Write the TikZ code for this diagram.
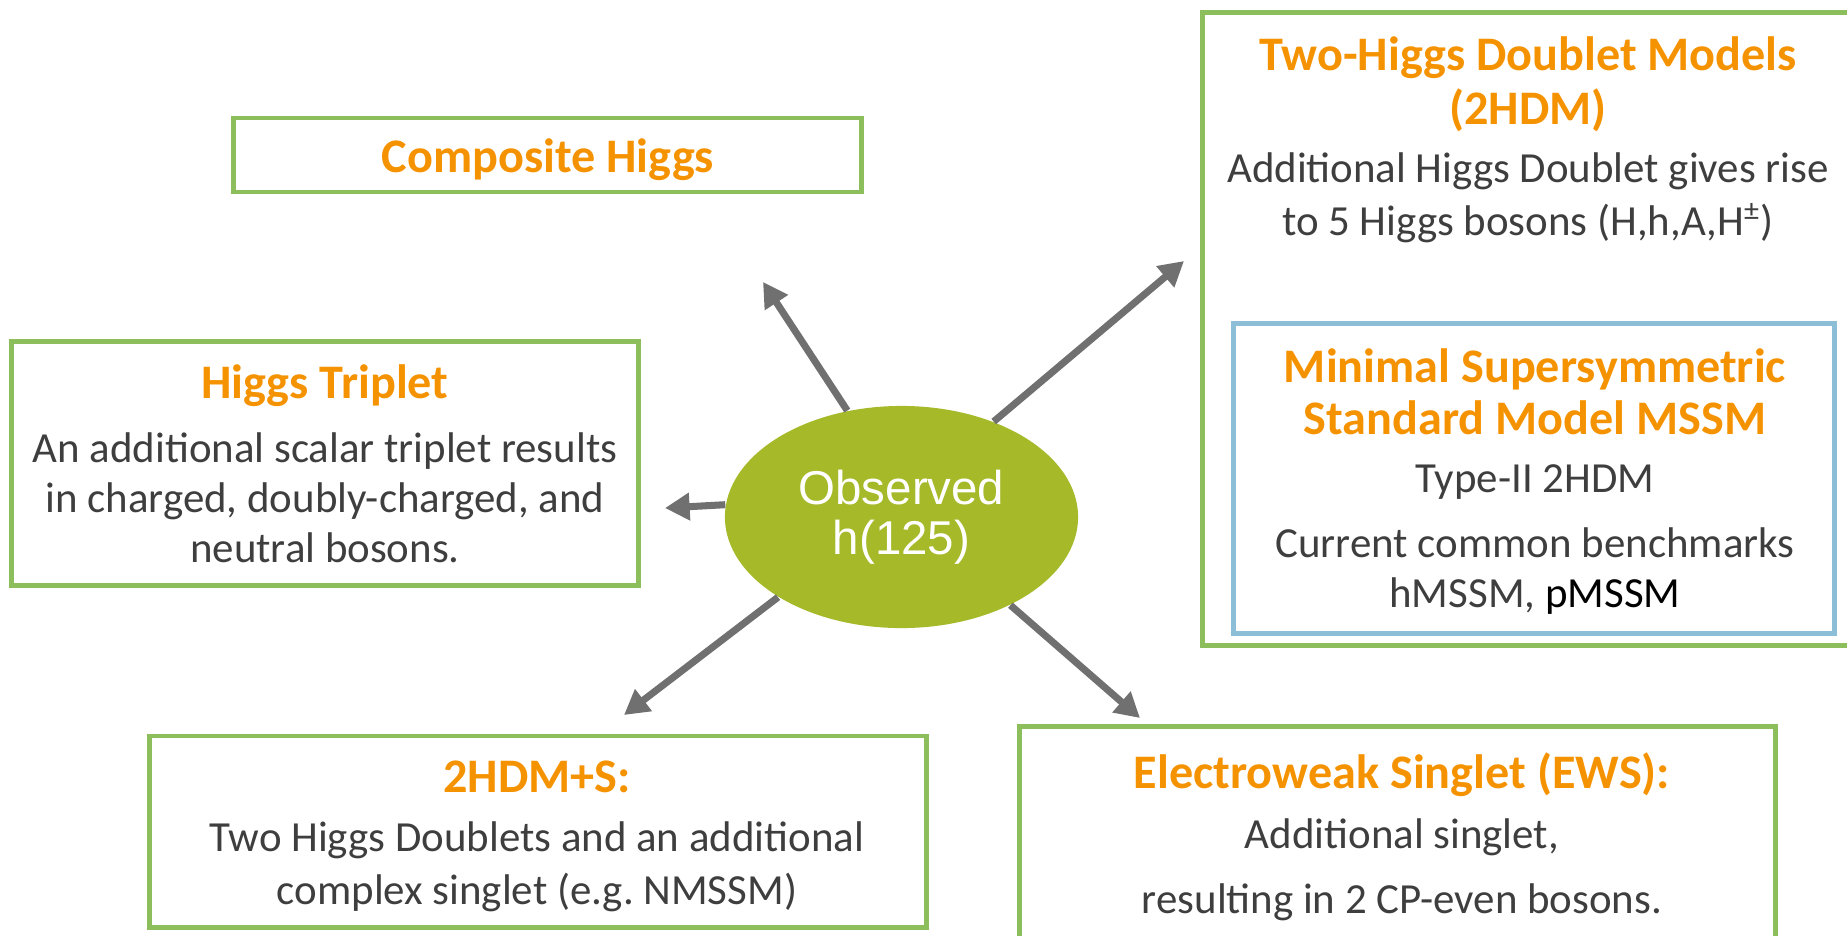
\documentclass[tikz,border=0pt]{standalone}
\usepackage{fontspec}
\setmainfont{Carlito}
\newfontfamily\arialfont{Liberation Sans}
\usepackage{xcolor}
\usetikzlibrary{shapes.geometric}
\usetikzlibrary{arrows.meta}

\definecolor{boxgreen}{RGB}{140,190,92}
\definecolor{boxblue}{RGB}{140,190,215}
\definecolor{hdorange}{RGB}{245,146,0}
\definecolor{obsgreen}{RGB}{166,185,40}
\definecolor{arrgray}{RGB}{112,112,112}
\definecolor{txtgray}{RGB}{62,62,62}

\begin{document}
\begin{tikzpicture}[x=0.01cm, y=-0.01cm, >={Triangle[length=7pt,width=7.5pt]},
  greenbox/.style={draw=boxgreen, line width=1.4pt, rectangle, inner sep=0pt},
  bluebox/.style={draw=boxblue, line width=1.4pt, rectangle, inner sep=0pt},
  ttl/.style={text=hdorange, font=\fontsize{13.7}{15.4}\selectfont\bfseries, align=center, inner sep=0pt},
  txt/.style={text=txtgray, font=\fontsize{12.2}{15.1}\selectfont, align=center, inner sep=0pt},
  arr/.style={->, draw=arrgray, line width=2pt}]

  \useasboundingbox (0,0) rectangle (1847,935);
  \clip (0,0) rectangle (1847,935);

  % ===== Boxes =====
  \node[greenbox, minimum width=6.27cm, minimum height=0.74cm] (ch) at (547.5,155) {};
  \node[greenbox, minimum width=6.26cm, minimum height=2.43cm] (ht) at (325,463.5) {};
  \node[greenbox, minimum width=7.76cm, minimum height=1.91cm] (hs) at (538,831.5) {};
  \node[greenbox, minimum width=7.55cm, minimum height=2.33cm] (ew) at (1397.5,843.5) {};
  \node[greenbox, minimum width=6.67cm, minimum height=6.32cm] (th) at (1536.5,329) {};
  \node[bluebox, minimum width=6.00cm, minimum height=3.09cm] (ms) at (1534,478.5) {};

  % ===== Texts =====
  \node[ttl] (chT) at (548,160) {Composite Higgs};

  \node[ttl] (htT) at (325,386) {Higgs Triplet};
  \node[txt, font=\fontsize{12.2}{14.2}\selectfont] (htB) at (325,498)
    {An additional scalar triplet results\\in charged, doubly-charged, and\\neutral bosons.};

  \node[ttl] (thT) at (1528,84) {Two-Higgs Doublet Models\\(2HDM)};
  \node[txt] (thB) at (1528,198)
    {Additional Higgs Doublet gives rise\\to 5 Higgs bosons (H,h,A,H\textsuperscript{±})};

  \node[ttl, font=\fontsize{13.7}{14.8}\selectfont\bfseries] (msT) at (1535,392)
    {Minimal Supersymmetric\\Standard Model MSSM};
  \node[txt] (msA) at (1535,482) {Type-II 2HDM};
  \node[txt, font=\fontsize{12.2}{14.2}\selectfont] (msB) at (1535,571)
    {Current common benchmarks\\hMSSM, {\color{black}pMSSM}};

  \node[ttl] (hsT) at (537,777) {2HDM+S:};
  \node[txt] (hsB) at (537,867)
    {Two Higgs Doublets and an additional\\complex singlet (e.g.\ NMSSM)};

  \node[ttl] (ewT) at (1402,775) {Electroweak Singlet (EWS):};
  \node[txt] (ewA) at (1402,837) {Additional singlet,};
  \node[txt] (ewB) at (1402,902) {resulting in 2 CP-even bosons.};

  % ===== Centre: observed Higgs =====
  \node[ellipse, fill=obsgreen, minimum width=3.53cm, minimum height=2.22cm, inner sep=0pt,
    text=white, align=center, font=\arialfont\fontsize{13.5}{14.2}\selectfont] (obs) at (901.5,517)
    {Observed\\h(125)};

  % Arrow ends
  \coordinate (tipCH) at (763,282);
  \coordinate (tipTH) at (1184,261);
  \coordinate (tipHT) at (665,508);
  \coordinate (tipHS) at (624,715);
  \coordinate (tipEW) at (1140,718);

  \draw[arr] (obs.117) -- (tipCH);
  \draw[arr] (obs.46) -- (tipTH);
  \draw[arr] (obs.176) -- (tipHT);
  \draw[arr] (obs.213) -- (tipHS);
  \draw[arr] (obs.321) -- (tipEW);
\end{tikzpicture}
\end{document}
